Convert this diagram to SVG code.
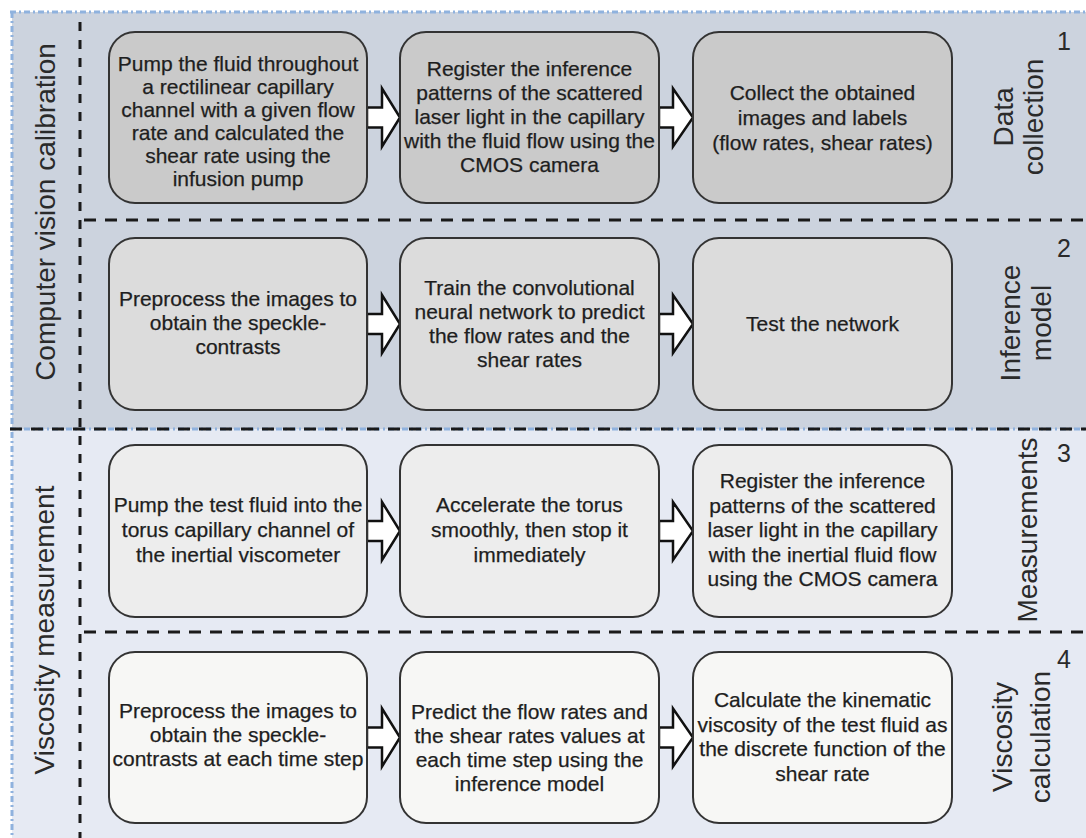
<svg xmlns="http://www.w3.org/2000/svg" width="1086" height="838" viewBox="0 0 1086 838">
<style>
.bt{font-family:"Liberation Sans",Arial,sans-serif;font-size:21px;fill:#1e1e1e;stroke:#1e1e1e;stroke-width:0.25;text-anchor:middle}
.lab{font-family:"Liberation Sans",Arial,sans-serif;font-size:28px;fill:#2a2a2a;text-anchor:middle}
.num{font-family:"Liberation Sans",Arial,sans-serif;font-size:25px;fill:#2a2a2a;text-anchor:middle}
.box{stroke:#333;stroke-width:2}
.r1{fill:#cacaca}.r2{fill:#dcdcdc}.r3{fill:#ededed}.r4{fill:#f7f7f5}
.dash{stroke:#1a1a1a;stroke-width:3;stroke-dasharray:12 9;fill:none}
.vdash{stroke:#1a1a1a;stroke-width:3;stroke-dasharray:9 9;fill:none}
.blue{stroke:#8fb2de;stroke-width:3;stroke-dasharray:6 3 2 3;fill:none}
.arr{fill:#fff;stroke:#111;stroke-width:2.5;stroke-linejoin:miter}
</style>
<rect x="0" y="0" width="1086" height="838" fill="#fff"/>
<g id="backgrounds">
<rect x="12" y="12" width="1074" height="417" fill="#ccd3de"/>
<rect x="12" y="429" width="1074" height="409" fill="#e6eaf3"/>
</g>
<g id="frame">
<line x1="10" y1="12" x2="1086" y2="12" class="blue"/>
<line x1="12" y1="12" x2="12" y2="838" class="blue"/>
<line x1="10" y1="429" x2="1086" y2="429" class="blue"/>
<line x1="10" y1="429" x2="1086" y2="429" class="dash"/>
<line x1="80" y1="22" x2="80" y2="838" class="vdash"/>
<line x1="84" y1="220" x2="1086" y2="220" class="dash"/>
<line x1="84" y1="632" x2="1086" y2="632" class="dash"/>
</g>
<g id="section-labels">
<text class="lab" transform="translate(55,212) rotate(-90)">Computer vision calibration</text>
<text class="lab" transform="translate(54,630) rotate(-90)">Viscosity measurement</text>
</g>
<g id="stage1">
<text class="lab" transform="translate(1013,117) rotate(-90)">Data</text>
<text class="lab" transform="translate(1043,117) rotate(-90)">collection</text>
<text class="num" x="1064" y="50">1</text>
</g>
<g id="stage2">
<text class="lab" transform="translate(1020,323) rotate(-90)">Inference</text>
<text class="lab" transform="translate(1051,323) rotate(-90)">model</text>
<text class="num" x="1064" y="257">2</text>
</g>
<g id="stage3">
<text class="lab" transform="translate(1037,530) rotate(-90)">Measurements</text>
<text class="num" x="1064" y="462">3</text>
</g>
<g id="stage4">
<text class="lab" transform="translate(1012,737) rotate(-90)">Viscosity</text>
<text class="lab" transform="translate(1050,737) rotate(-90)">calculation</text>
<text class="num" x="1064" y="668">4</text>
</g>
<g id="connectors">
<path class="arr" d="M367,107.5 H382 V88.5 L400,117.5 L382,146.5 V127.5 H367 Z"/>
<path class="arr" d="M659,107.5 H673 V88.5 L693,117.5 L673,146.5 V127.5 H659 Z"/>
<path class="arr" d="M367,314 H382 V295 L400,324 L382,353 V334 H367 Z"/>
<path class="arr" d="M659,314 H673 V295 L693,324 L673,353 V334 H659 Z"/>
<path class="arr" d="M367,521 H382 V502 L400,531 L382,560 V541 H367 Z"/>
<path class="arr" d="M659,521 H673 V502 L693,531 L673,560 V541 H659 Z"/>
<path class="arr" d="M367,727.5 H382 V708.5 L400,737.5 L382,766.5 V747.5 H367 Z"/>
<path class="arr" d="M659,727.5 H673 V708.5 L693,737.5 L673,766.5 V747.5 H659 Z"/>
</g>
<g id="n1a">
<rect class="box r1" x="109" y="32" width="258" height="171" rx="26"/>
<text class="bt"><tspan x="238" y="71">Pump the fluid throughout</tspan><tspan x="238" y="94">a rectilinear capillary</tspan><tspan x="238" y="117">channel with a given flow</tspan><tspan x="238" y="140">rate and calculated the</tspan><tspan x="238" y="163">shear rate using the</tspan><tspan x="238" y="186">infusion pump</tspan></text>
</g>
<g id="n1b">
<rect class="box r1" x="400" y="32" width="259" height="171" rx="26"/>
<text class="bt"><tspan x="529.5" y="76">Register the inference</tspan><tspan x="529.5" y="100">patterns of the scattered</tspan><tspan x="529.5" y="124">laser light in the capillary</tspan><tspan x="529.5" y="148">with the fluid flow using the</tspan><tspan x="529.5" y="172">CMOS camera</tspan></text>
</g>
<g id="n1c">
<rect class="box r1" x="693" y="32" width="259" height="171" rx="26"/>
<text class="bt"><tspan x="822.5" y="100">Collect the obtained</tspan><tspan x="822.5" y="125">images and labels</tspan><tspan x="822.5" y="150">(flow rates, shear rates)</tspan></text>
</g>
<g id="n2a">
<rect class="box r2" x="109" y="238" width="258" height="172" rx="26"/>
<text class="bt"><tspan x="238" y="306">Preprocess the images to</tspan><tspan x="238" y="330">obtain the speckle-</tspan><tspan x="238" y="354">contrasts</tspan></text>
</g>
<g id="n2b">
<rect class="box r2" x="400" y="238" width="259" height="172" rx="26"/>
<text class="bt"><tspan x="529.5" y="295">Train the convolutional</tspan><tspan x="529.5" y="319">neural network to predict</tspan><tspan x="529.5" y="343">the flow rates and the</tspan><tspan x="529.5" y="367">shear rates</tspan></text>
</g>
<g id="n2c">
<rect class="box r2" x="693" y="238" width="259" height="172" rx="26"/>
<text class="bt" x="822.5" y="331">Test the network</text>
</g>
<g id="n3a">
<rect class="box r3" x="109" y="445" width="258" height="172" rx="26"/>
<text class="bt"><tspan x="238" y="512">Pump the test fluid into the</tspan><tspan x="238" y="537">torus capillary channel of</tspan><tspan x="238" y="562">the inertial viscometer</tspan></text>
</g>
<g id="n3b">
<rect class="box r3" x="400" y="445" width="259" height="172" rx="26"/>
<text class="bt"><tspan x="529.5" y="512">Accelerate the torus</tspan><tspan x="529.5" y="537">smoothly, then stop it</tspan><tspan x="529.5" y="562">immediately</tspan></text>
</g>
<g id="n3c">
<rect class="box r3" x="693" y="445" width="259" height="172" rx="26"/>
<text class="bt"><tspan x="822.5" y="488">Register the inference</tspan><tspan x="822.5" y="512.5">patterns of the scattered</tspan><tspan x="822.5" y="537">laser light in the capillary</tspan><tspan x="822.5" y="561.5">with the inertial fluid flow</tspan><tspan x="822.5" y="586">using the CMOS camera</tspan></text>
</g>
<g id="n4a">
<rect class="box r4" x="109" y="652" width="258" height="171" rx="26"/>
<text class="bt"><tspan x="238" y="718">Preprocess the images to</tspan><tspan x="238" y="742">obtain the speckle-</tspan><tspan x="238" y="766">contrasts at each time step</tspan></text>
</g>
<g id="n4b">
<rect class="box r4" x="400" y="652" width="259" height="171" rx="26"/>
<text class="bt"><tspan x="529.5" y="719">Predict the flow rates and</tspan><tspan x="529.5" y="743">the shear rates values at</tspan><tspan x="529.5" y="767">each time step using the</tspan><tspan x="529.5" y="791">inference model</tspan></text>
</g>
<g id="n4c">
<rect class="box r4" x="693" y="652" width="259" height="171" rx="26"/>
<text class="bt"><tspan x="822.5" y="707">Calculate the kinematic</tspan><tspan x="822.5" y="731.5">viscosity of the test fluid as</tspan><tspan x="822.5" y="756">the discrete function of the</tspan><tspan x="822.5" y="780.5">shear rate</tspan></text>
</g>
</svg>
